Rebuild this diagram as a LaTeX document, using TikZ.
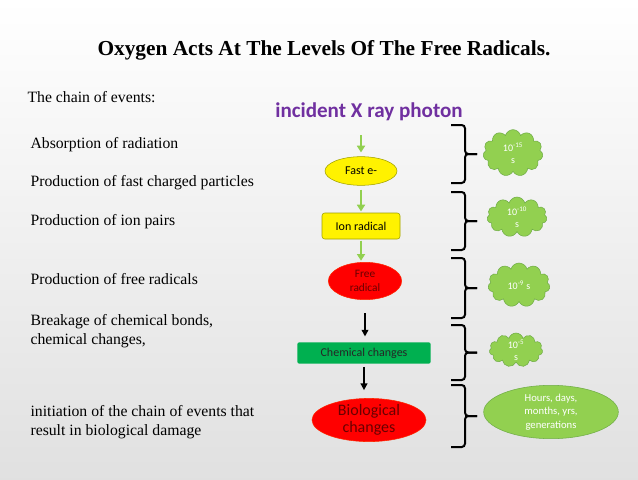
\documentclass[tikz,border=0pt]{standalone}
\usepackage{fontspec}
\setmainfont{Liberation Serif}
\newfontfamily\calibri{Carlito}
\usetikzlibrary{shapes.geometric,shapes.symbols,arrows.meta}

\definecolor{leaf}{RGB}{146,208,80}
\definecolor{leafdark}{RGB}{112,173,71}
\definecolor{chemgreen}{RGB}{0,176,80}
\definecolor{photon}{RGB}{112,48,160}
\definecolor{bloodred}{RGB}{105,0,0}
\definecolor{olivebd}{RGB}{160,160,0}

\tikzset{
  stage/.style={font=\calibri\fontsize{9}{10}\selectfont, inner sep=0pt, align=center},
  yellowoval/.style={stage, ellipse, draw=olivebd, fill=yellow, thin},
  redoval/.style={stage, ellipse, draw=red!70!orange, fill=red, text=bloodred, thin},
  garrow/.style={draw=leaf, line width=1.5pt, -{Triangle[length=5pt,width=6pt]}},
  karrow/.style={draw=black, line width=1.2pt, -{Triangle[length=5pt,width=5pt]}},
  timebrace/.style={line width=1.5pt, rounded corners=2.5pt},
  puff/.style={stage, cloud, cloud puffs=11, cloud ignores aspect, draw=leafdark, fill=leaf, text=white, thin, font=\calibri\fontsize{7.5}{9}\selectfont},
  event/.style={anchor=west, font=\fontsize{11.8}{14.5}\selectfont, align=left, inner sep=0pt}
}

\begin{document}
\begin{tikzpicture}[x=0.75pt, y=-0.75pt, thick]
  \fill[top color=white, bottom color=gray!24] (0,0) rectangle (638,479);

  \node[font=\bfseries\fontsize{16}{18}\selectfont] (title) at (324,50) {Oxygen Acts At The Levels Of The Free Radicals.};
  \node[event] (chain) at (27,97) {The chain of events:};

  % left column
  \node[event] (e1) at (30,145) {Absorption of radiation};
  \node[event] (e2) at (30,183) {Production of fast charged particles};
  \node[event] (e3) at (30,222) {Production of ion pairs};
  \node[event] (e4) at (30,279) {Production of free radicals};
  \node[event] (e5) at (30,331) {Breakage of chemical bonds,\\ chemical changes,};
  \node[event] (e6) at (30,422) {initiation of the chain of events that\\result in biological damage};

  % chain
  \node[font=\calibri\bfseries\fontsize{15.8}{18}\selectfont, text=photon] (photon) at (369,112) {incident X ray photon};
  \node[yellowoval, minimum width=54pt, minimum height=21.5pt] (fast) at (361,171) {Fast e-};
  \node[stage, draw=olivebd, fill=yellow, thin, rounded corners=2pt, minimum width=58.5pt, minimum height=19.5pt] (ion) at (361,226) {Ion radical};
  \node[redoval, minimum width=55pt, minimum height=28pt, font=\calibri\fontsize{8.5}{10}\selectfont] (free) at (365,281) {Free\\radical};
  \node[stage, fill=chemgreen, rounded corners=1.5pt, text=black!85, minimum width=100pt, minimum height=16pt] (chem) at (364,353) {Chemical changes};
  \node[redoval, minimum width=85.5pt, minimum height=31pt, font=\calibri\fontsize{12}{12.5}\selectfont] (bio) at (369,420) {Biological\\changes};

  \draw[garrow, shorten <=7pt, shorten >=3pt] (photon.south -| fast.north) -- (fast.north);
  \draw[garrow, shorten <=3pt, shorten >=1pt] (fast) -- (fast |- ion.north);
  \draw[garrow, shorten <=1pt, shorten >=1pt] (ion) -- (ion |- free.north);
  \draw[karrow, shorten <=10pt, shorten >=4pt] (free) -- (free |- chem.north);
  \draw[karrow, shorten <=2pt, shorten >=6pt] (chem) -- (chem |- bio.north);

  % braces
  \foreach \top/\bot in {125/183, 192/250, 258/318, 325/380, 385/447} {
    \pgfmathsetmacro\mid{(\top+\bot)/2}
    \draw[timebrace] (451,\top) -- (465,\top) -- (465,\mid) -- (477,\mid);
    \draw[timebrace] (477,\mid) -- (465,\mid) -- (465,\bot) -- (451,\bot);
  }

  % times
  \node[puff, minimum width=45pt, minimum height=35pt] (t1) at (513,153) {10\textsuperscript{-15}\\s};
  \node[puff, minimum width=45pt, minimum height=30pt] (t2) at (517,217) {10\textsuperscript{-10}\\s};
  \node[puff, minimum width=46.5pt, minimum height=33pt] (t3) at (519,285) {10\textsuperscript{-9} s};
  \node[puff, minimum width=40pt, minimum height=25.5pt] (t4) at (516,350) {10\textsuperscript{-5}\\s};
  \node[stage, ellipse, draw=leafdark, fill=leaf, text=white, thin, minimum width=101pt, minimum height=40pt, font=\calibri\fontsize{8}{10}\selectfont] (t5) at (551,412) {Hours, days,\\months, yrs,\\generations};
\end{tikzpicture}
\end{document}
